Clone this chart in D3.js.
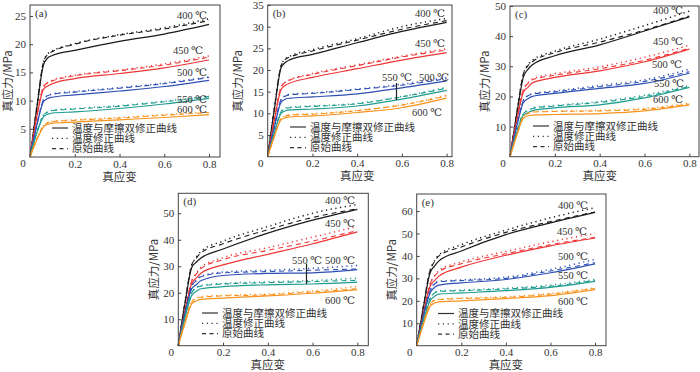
<!DOCTYPE html>
<html>
<head>
<meta charset="utf-8">
<script src="https://d3js.org/d3.v7.min.js"></script>
<style>
  body { margin: 0; background: #fff; }
  .num { font-family: "Liberation Serif", "DejaVu Serif", serif; font-size: 11px; fill: #333; }
  .cjk { font-family: "Noto Sans CJK SC", sans-serif; fill: #333; }
</style>
</head>
<body>
<svg width="700" height="372"></svg>
<script>
const strain = [0, 0.03, 0.06, 0.08, 0.1, 0.2, 0.4, 0.6, 0.8];
const temps = ['400 ℃', '450 ℃', '500 ℃', '550 ℃', '600 ℃'];
const colors = ['#1a1a1a', '#ee3535', '#2d4fb3', '#1f9c8f', '#f7931e'];
const xTicks = [0.2, 0.4, 0.6, 0.8];
const legendText = ['温度与摩擦双修正曲线', '温度修正曲线', '原始曲线'];

// (a)
const aSolid = [
  [0, 8.5, 16.3, 17.6, 18.0, 18.9, 20.5, 21.8, 23.5],
  [0, 7.0, 12.0, 12.6, 13.0, 13.9, 14.8, 15.8, 17.2],
  [0, 5.5, 9.8, 10.4, 10.6, 11.0, 11.7, 12.5, 13.6],
  [0, 4.2, 7.1, 7.6, 7.8, 8.0, 8.6, 9.4, 10.4],
  [0, 3.0, 5.3, 5.8, 6.0, 6.2, 6.6, 7.0, 7.5]];
const aTemp = [
  [0, 8.8, 16.8, 18.3, 18.8, 20.1, 21.7, 22.9, 24.5],
  [0, 7.2, 12.4, 13.2, 13.6, 14.5, 15.4, 16.5, 17.9],
  [0, 5.6, 10.1, 10.9, 11.2, 11.6, 12.3, 13.1, 14.2],
  [0, 4.3, 7.4, 8.0, 8.3, 8.6, 9.1, 9.9, 10.8],
  [0, 3.1, 5.5, 6.1, 6.3, 6.6, 7.0, 7.5, 8.0]];
const aRaw = [
  [0, 8.8, 16.8, 18.2, 18.7, 20.0, 21.6, 22.7, 24.2],
  [0, 7.2, 12.4, 13.2, 13.5, 14.4, 15.3, 16.3, 17.7],
  [0, 5.6, 10.1, 10.9, 11.1, 11.5, 12.2, 13.0, 14.1],
  [0, 4.3, 7.4, 8.0, 8.2, 8.5, 9.0, 9.8, 10.7],
  [0, 3.1, 5.5, 6.1, 6.3, 6.5, 6.9, 7.4, 7.9]];

// (b)
const bSolid = [
  [0, 11.0, 20.5, 21.8, 22.4, 23.6, 26.3, 28.9, 31.0],
  [0, 8.5, 15.5, 16.5, 17.0, 18.3, 20.3, 22.3, 24.0],
  [0, 6.8, 12.6, 13.3, 13.5, 13.8, 14.5, 15.9, 17.5],
  [0, 5.5, 10.0, 10.6, 10.8, 11.0, 11.7, 13.3, 15.3],
  [0, 4.7, 8.5, 9.0, 9.2, 9.4, 10.2, 11.3, 13.5]];
const bTemp = [
  [0, 11.3, 21.0, 22.6, 23.2, 24.7, 27.2, 30.0, 31.9],
  [0, 8.7, 16.0, 17.3, 17.8, 19.2, 21.2, 23.2, 24.9],
  [0, 7.0, 13.2, 14.1, 14.4, 14.7, 15.6, 16.7, 18.3],
  [0, 5.6, 10.4, 11.2, 11.4, 11.7, 12.3, 13.9, 16.0],
  [0, 4.8, 8.8, 9.4, 9.7, 9.9, 10.7, 12.0, 14.2]];
const bRaw = [
  [0, 11.3, 21.0, 22.5, 23.0, 24.4, 26.9, 29.4, 31.4],
  [0, 8.7, 16.0, 17.2, 17.7, 19.0, 21.0, 23.0, 24.6],
  [0, 7.0, 13.2, 14.0, 14.3, 14.6, 15.5, 16.5, 18.0],
  [0, 5.6, 10.4, 11.1, 11.3, 11.6, 12.2, 13.8, 15.8],
  [0, 4.8, 8.8, 9.4, 9.6, 9.8, 10.6, 11.9, 14.0]];

// (c)
const cSolid = [
  [0, 14.0, 26.5, 29.0, 30.5, 33.5, 37.1, 41.7, 46.4],
  [0, 12.0, 21.5, 23.0, 24.5, 26.3, 28.5, 31.5, 35.7],
  [0, 10.0, 18.0, 19.2, 20.0, 21.0, 22.7, 24.3, 27.7],
  [0, 8.0, 13.8, 14.6, 15.3, 16.2, 17.2, 19.5, 23.0],
  [0, 7.0, 12.8, 13.5, 13.8, 14.0, 14.3, 15.2, 17.2]];
const cTemp = [
  [0, 14.5, 27.5, 30.5, 32.0, 35.0, 39.0, 43.5, 48.3],
  [0, 12.3, 22.3, 24.5, 25.8, 27.5, 29.8, 33.0, 37.0],
  [0, 10.3, 18.7, 20.3, 20.9, 21.8, 23.6, 25.5, 29.0],
  [0, 8.2, 14.3, 15.4, 16.2, 17.0, 18.3, 20.4, 23.6],
  [0, 7.2, 13.3, 14.4, 14.9, 15.1, 15.4, 16.0, 17.8]];
const cRaw = [
  [0, 14.5, 27.5, 30.2, 31.5, 34.5, 38.0, 42.0, 46.7],
  [0, 12.3, 22.3, 24.3, 25.5, 27.0, 29.2, 32.0, 36.0],
  [0, 10.3, 18.7, 20.2, 20.7, 21.5, 23.2, 25.0, 28.2],
  [0, 8.2, 14.3, 15.3, 16.0, 16.8, 18.0, 20.0, 23.3],
  [0, 7.2, 13.3, 14.3, 14.8, 15.0, 15.2, 15.7, 17.5]];

// (d)
const dSolid = [
  [0, 16.0, 29.5, 31.5, 33.0, 36.5, 42.5, 47.4, 51.5],
  [0, 13.0, 23.5, 25.5, 27.3, 30.5, 34.5, 38.5, 43.0],
  [0, 12.0, 21.5, 23.0, 24.5, 26.5, 27.3, 27.5, 28.7],
  [0, 10.5, 19.0, 20.5, 21.5, 22.3, 23.0, 23.3, 24.0],
  [0, 8.5, 15.8, 17.0, 17.5, 18.0, 18.8, 19.8, 21.2]];
const dTemp = [
  [0, 16.5, 30.5, 33.3, 35.5, 39.5, 45.0, 50.0, 53.3],
  [0, 13.5, 24.5, 27.3, 29.5, 33.2, 37.0, 41.0, 45.0],
  [0, 12.5, 22.5, 24.6, 26.2, 27.8, 28.5, 29.2, 30.3],
  [0, 11.0, 20.0, 21.9, 22.7, 23.5, 24.1, 24.6, 25.5],
  [0, 9.0, 16.5, 18.1, 18.5, 19.0, 19.5, 20.7, 22.3]];
const dRaw = [
  [0, 16.5, 30.5, 33.0, 35.0, 38.5, 43.8, 48.4, 51.7],
  [0, 13.5, 24.5, 27.0, 29.0, 32.5, 36.0, 39.5, 43.5],
  [0, 12.5, 22.5, 24.5, 26.0, 27.5, 28.0, 28.5, 29.0],
  [0, 11.0, 20.0, 21.8, 22.5, 23.3, 23.8, 24.2, 24.7],
  [0, 9.0, 16.5, 18.0, 18.3, 18.8, 19.2, 20.3, 21.5]];

// (e)
const eSolid = [
  [0, 17.0, 32.5, 35.5, 37.8, 42.2, 49.5, 54.7, 59.4],
  [0, 14.0, 26.5, 29.0, 31.0, 35.0, 40.3, 44.5, 48.0],
  [0, 13.0, 23.5, 26.0, 27.0, 28.0, 29.5, 32.5, 36.5],
  [0, 11.0, 20.0, 22.0, 23.0, 23.5, 24.5, 26.0, 28.7],
  [0, 9.5, 17.5, 19.0, 19.5, 20.0, 21.0, 22.3, 25.0]];
const eTemp = [
  [0, 17.5, 33.5, 37.8, 40.5, 45.0, 51.5, 57.0, 61.5],
  [0, 14.5, 27.5, 31.2, 33.5, 37.3, 42.0, 46.3, 50.0],
  [0, 13.5, 24.5, 27.7, 28.7, 29.3, 30.5, 34.0, 38.5],
  [0, 11.5, 21.0, 23.7, 24.4, 24.8, 25.6, 27.0, 29.5],
  [0, 10.0, 18.5, 20.3, 20.7, 21.2, 21.8, 23.3, 25.8]];
const eRaw = [
  [0, 17.5, 33.5, 37.5, 40.0, 44.0, 50.5, 55.3, 59.6],
  [0, 14.5, 27.5, 31.0, 33.0, 36.5, 41.0, 45.0, 48.3],
  [0, 13.5, 24.5, 27.5, 28.5, 29.0, 30.0, 33.3, 37.0],
  [0, 11.5, 21.0, 23.5, 24.2, 24.5, 25.3, 26.5, 29.0],
  [0, 10.0, 18.5, 20.2, 20.5, 21.0, 21.5, 23.0, 25.5]];

const aYTicks = [5, 10, 15, 20, 25];
const bYTicks = [5, 10, 15, 20, 25, 30, 35];
const cYTicks = [10, 20, 30, 40, 50];
const dYTicks = [10, 20, 30, 40, 50];
const eYTicks = [10, 20, 30, 40, 50, 60];

// layout of each panel (pixels)
const panels = [
  { tag: '(a)', left: 30, right: 220, top: 5, bottom: 157, xMax: 0.849, yMax: 26.95, yTicks: aYTicks,
    solid: aSolid, temp: aTemp, raw: aRaw, titleDx: 22.5,
    labels: [[192, 15], [188, 50], [192, 72], [192, 99], [192, 109]], legend: [52, 128] },
  { tag: '(b)', left: 267.7, right: 452, top: 5, bottom: 156.7, xMax: 0.824, yMax: 35, yTicks: bYTicks,
    solid: bSolid, temp: bTemp, raw: bRaw, titleDx: 30,
    labels: [[430, 13], [430, 43], [434, 77], [397, 77], [427, 112]], legend: [290, 127],
    pointer: [396.5, 83, 100] },
  { tag: '(c)', left: 510, right: 699, top: 6, bottom: 156.7, xMax: 0.843, yMax: 50, yTicks: cYTicks,
    solid: cSolid, temp: cTemp, raw: cRaw, titleDx: 25,
    labels: [[668, 10], [668, 41], [667, 64], [669, 83], [668, 99.5]], legend: [533, 126] },
  { tag: '(d)', left: 178.3, right: 368.3, top: 193.3, bottom: 345.7, xMax: 0.849, yMax: 57.55, yTicks: dYTicks,
    solid: dSolid, temp: dTemp, raw: dRaw, titleDx: 24,
    labels: [[340, 200], [340, 223.5], [340, 260], [307, 260], [340, 300]], legend: [202, 313],
    pointer: [306.5, 264, 284] },
  { tag: '(e)', left: 416.7, right: 606, top: 194, bottom: 345.7, xMax: 0.849, yMax: 67.6, yTicks: eYTicks,
    solid: eSolid, temp: eTemp, raw: eRaw, titleDx: 25,
    labels: [[573, 205], [572, 231], [573, 256], [573, 275.5], [573, 301]], legend: [438, 313.5] }
];

const svg = d3.select('svg');

panels.forEach(p => {
  const x = d3.scaleLinear().domain([0, p.xMax]).range([p.left, p.right]);
  const y = d3.scaleLinear().domain([0, p.yMax]).range([p.bottom, p.top]);
  const g = svg.append('g');

  const line = d3.line()
    .x((d, i) => x(strain[i]))
    .y(d => y(d))
    .curve(d3.curveMonotoneX);

  // curves: dotted, dashed, then solid on top
  temps.forEach((t, k) => {
    g.append('path').attr('d', line(p.temp[k]))
      .attr('fill', 'none').attr('stroke', colors[k])
      .attr('stroke-width', 1.5).attr('stroke-dasharray', '1.2,3.6');
    g.append('path').attr('d', line(p.raw[k]))
      .attr('fill', 'none').attr('stroke', colors[k])
      .attr('stroke-width', 1.1).attr('stroke-dasharray', '5,4');
    g.append('path').attr('d', line(p.solid[k]))
      .attr('fill', 'none').attr('stroke', colors[k])
      .attr('stroke-width', 1.2);
  });

  // frame
  g.append('rect')
    .attr('x', p.left).attr('y', p.top)
    .attr('width', p.right - p.left).attr('height', p.bottom - p.top)
    .attr('fill', 'none').attr('stroke', '#444').attr('stroke-width', 1);

  // axes with inward ticks
  const xAxis = d3.axisBottom(x).tickValues(xTicks).tickSize(-3).tickPadding(3)
    .tickFormat(d3.format('.1f'));
  const yAxis = d3.axisLeft(y).tickValues(p.yTicks).tickSize(-3).tickPadding(4);
  const xg = g.append('g').attr('transform', `translate(0,${p.bottom})`).call(xAxis);
  const yg = g.append('g').attr('transform', `translate(${p.left},0)`).call(yAxis);
  [xg, yg].forEach(a => {
    a.attr('font-family', null).attr('font-size', null);
    a.select('.domain').remove();
    a.selectAll('.tick line').attr('stroke', '#444');
    a.selectAll('.tick text').attr('class', 'num').attr('fill', '#333');
  });
  g.append('text').attr('class', 'num')
    .attr('x', p.left - 7).attr('y', p.bottom + 6)
    .attr('dy', '0.35em')
    .attr('text-anchor', 'middle').text('0');

  // axis titles
  g.append('text').attr('class', 'cjk')
    .attr('x', (x(0) + x(0.8)) / 2).attr('y', p.bottom + 19.5)
    .attr('dy', '0.35em')
    .attr('text-anchor', 'middle').style('font-size', '11.5px')
    .text('真应变');
  g.append('text').attr('class', 'cjk')
    .attr('transform', `translate(${p.left - p.titleDx},${(p.top + p.bottom) / 2}) rotate(-90)`)
    .attr('dy', '0.35em')
    .attr('text-anchor', 'middle').style('font-size', '11.5px')
    .text('真应力/MPa');

  // panel tag
  g.append('text').attr('class', 'num')
    .attr('x', p.left + 5).attr('y', p.top + 12)
    .text(p.tag);

  // temperature labels
  temps.forEach((t, k) => {
    g.append('text').attr('class', 'num')
      .attr('x', p.labels[k][0]).attr('y', p.labels[k][1])
      .attr('dy', '0.35em').attr('text-anchor', 'middle')
      .style('font-size', '10.5px')
      .text(t);
  });

  if (p.pointer) {
    g.append('line')
      .attr('x1', p.pointer[0]).attr('x2', p.pointer[0])
      .attr('y1', p.pointer[1]).attr('y2', p.pointer[2])
      .attr('stroke', '#222').attr('stroke-width', 1.2);
  }

  // legend
  const dashes = [null, '1.2,3.6', '4,3.5'];
  legendText.forEach((txt, i) => {
    const ly = p.legend[1] + i * 10.3;
    g.append('line')
      .attr('x1', p.legend[0]).attr('x2', p.legend[0] + 16)
      .attr('y1', ly).attr('y2', ly)
      .attr('stroke', '#333').attr('stroke-width', 1.2)
      .attr('stroke-dasharray', dashes[i]);
    g.append('text').attr('class', 'cjk')
      .attr('x', p.legend[0] + 20).attr('y', ly)
      .attr('dy', '0.36em').style('font-size', '10.5px')
      .text(txt);
  });
});
</script>
</body>
</html>
